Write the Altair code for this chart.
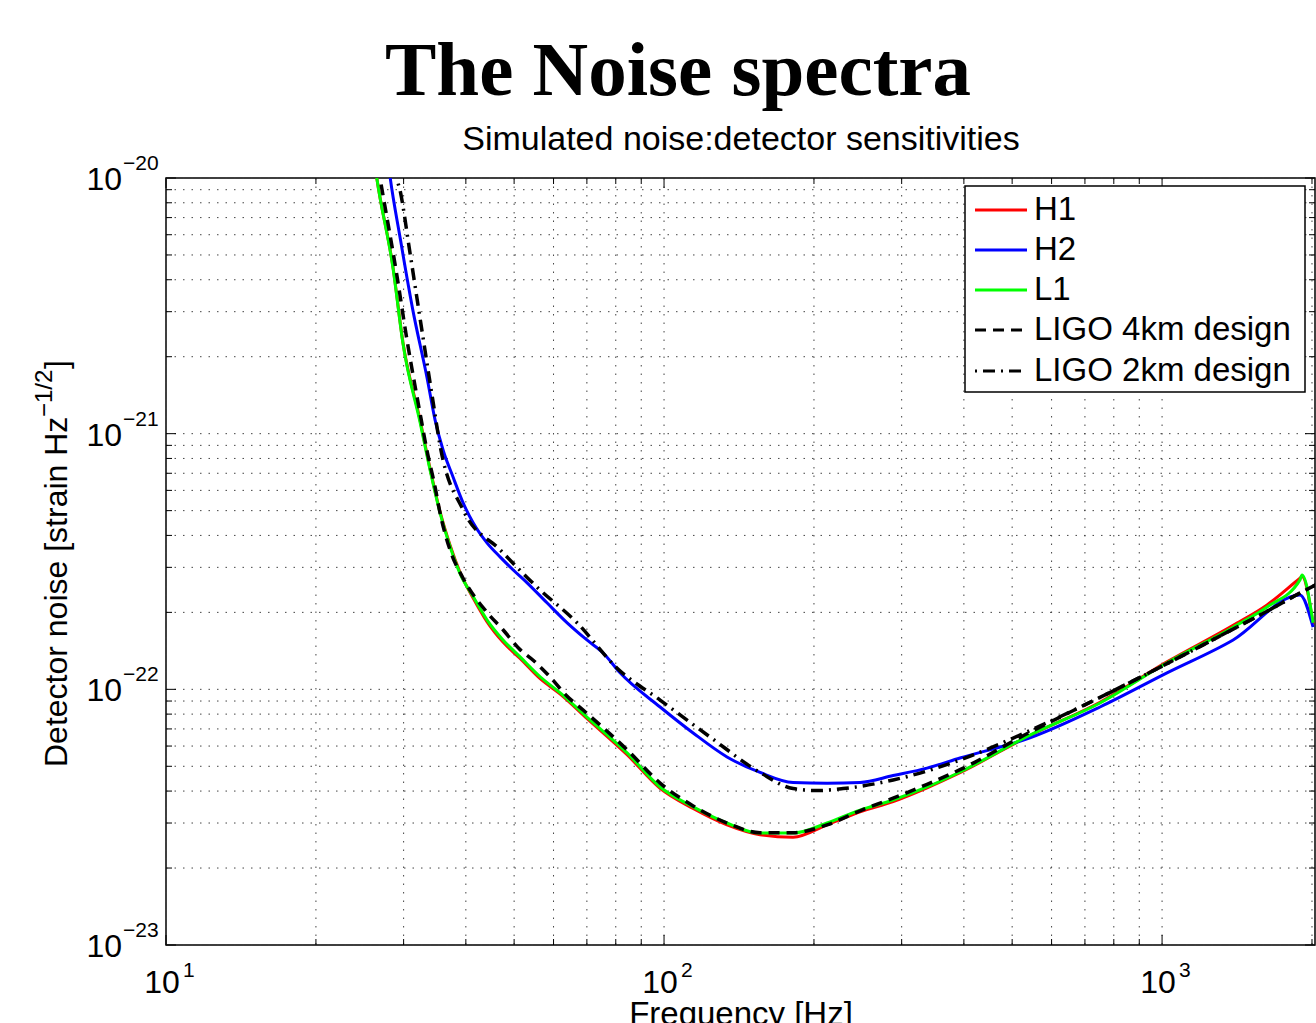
import altair as alt
import pandas as pd

# ---------------- data ----------------
freq_L1 = [26.0, 26.5, 28.6, 29.9, 32.4, 33.9, 35.5, 37.2, 38.9, 41.4, 44.1, 47.5, 51.4, 56.4,
           61.8, 70.0, 84.3, 98.2, 114.4, 133.8, 155.9, 181.6, 212.5, 247.5, 288.4, 337.4, 392.9,
           543.0, 750.6, 1023.0, 1389.0, 1625.0, 1892.0, 1910.0, 2010.0]
val_L1 = [1.3e-20, 1.0e-20, 4.37e-21, 2.26e-21, 1.1e-21, 7.21e-22, 4.90e-22, 3.61e-22, 2.85e-22,
          2.30e-22, 1.87e-22, 1.56e-22, 1.34e-22, 1.12e-22, 9.7e-23, 7.79e-23, 5.64e-23, 4.15e-23,
          3.47e-23, 3.00e-23, 2.74e-23, 2.74e-23, 3.00e-23, 3.37e-23, 3.69e-23, 4.15e-23, 4.75e-23,
          6.62e-23, 8.84e-23, 1.27e-22, 1.75e-22, 2.10e-22, 2.68e-22, 2.80e-22, 1.82e-22]
val_H1 = [1.3e-20, 1.0e-20, 4.4e-21, 2.28e-21, 1.12e-21, 7.3e-22, 4.95e-22, 3.65e-22, 2.88e-22,
          2.27e-22, 1.84e-22, 1.53e-22, 1.32e-22, 1.10e-22, 9.6e-23, 7.70e-23, 5.55e-23, 4.10e-23,
          3.42e-23, 2.95e-23, 2.70e-23, 2.64e-23, 2.95e-23, 3.32e-23, 3.64e-23, 4.12e-23, 4.72e-23,
          6.60e-23, 8.90e-23, 1.28e-22, 1.78e-22, 2.14e-22, 2.72e-22, 2.76e-22, 1.80e-22]

freq_H2 = [27.6, 28.2, 29.5, 31.3, 33.4, 34.7, 36.0, 37.7, 39.5, 41.4, 44.1, 46.9, 49.8, 53.1,
           58.2, 63.9, 70.0, 75.4, 81.6, 98.2, 114.4, 133.8, 155.9, 181.6, 212.5, 247.5, 288.4,
           337.4, 392.9, 543.0, 750.6, 1023.0, 1389.0, 1892.0, 2010.0]
val_H2 = [1.4e-20, 1.0e-20, 5.88e-21, 3.05e-21, 1.67e-21, 1.13e-21, 8.63e-22, 6.77e-22, 5.36e-22,
          4.47e-22, 3.74e-22, 3.29e-22, 2.93e-22, 2.61e-22, 2.18e-22, 1.82e-22, 1.56e-22, 1.39e-22,
          1.16e-22, 8.53e-23, 6.75e-23, 5.44e-23, 4.73e-23, 4.32e-23, 4.29e-23, 4.32e-23, 4.6e-23,
          4.92e-23, 5.39e-23, 6.46e-23, 8.53e-23, 1.16e-22, 1.56e-22, 2.34e-22, 1.75e-22]

freq_4k = [26.3, 26.9, 29.0, 30.5, 32.5, 33.4, 34.7, 35.5, 37.2, 39.5, 44.1, 47.5, 51.4, 54.6,
           59.0, 63.9, 68.8, 84.3, 98.2, 114.4, 133.8, 155.9, 181.6, 212.5, 247.5, 288.4, 337.4,
           392.9, 543.0, 750.6, 1023.0, 1389.0, 1625.0, 1892.0, 2050.0]
val_4k = [1.3e-20, 1.0e-20, 4.3e-21, 2.3e-21, 1.15e-21, 8.63e-22, 6.18e-22, 4.9e-22, 3.5e-22,
          2.72e-22, 2.0e-22, 1.71e-22, 1.43e-22, 1.30e-22, 1.12e-22, 9.4e-23, 8.3e-23, 5.8e-23,
          4.3e-23, 3.5e-23, 3.0e-23, 2.75e-23, 2.75e-23, 2.95e-23, 3.35e-23, 3.75e-23, 4.25e-23,
          4.85e-23, 6.8e-23, 9.3e-23, 1.26e-22, 1.72e-22, 2.02e-22, 2.38e-22, 2.58e-22]

freq_2k = [28.8, 29.1, 29.5, 30.9, 32.4, 34.4, 35.5, 39.5, 46.9, 55.6, 66.9, 80.5, 98.2, 123.7,
           155.9, 181.6, 202.9, 228.8, 288.4, 392.9, 543.0, 750.6, 1023.0, 1389.0, 1625.0, 1892.0,
           2050.0]
val_2k = [1.2e-20, 1.0e-20, 8.98e-21, 5.09e-21, 2.79e-21, 1.32e-21, 9.0e-22, 5.03e-22, 3.51e-22,
          2.51e-22, 1.82e-22, 1.21e-22, 9.08e-23, 6.51e-23, 4.73e-23, 4.09e-23, 4.02e-23, 4.09e-23,
          4.42e-23, 5.29e-23, 6.9e-23, 9.3e-23, 1.26e-22, 1.72e-22, 2.02e-22, 2.38e-22, 2.58e-22]

legend_labels = ["H1", "H2", "L1", "LIGO 4km design", "LIGO 2km design"]
legend_colors = ["#ff0000", "#0000ff", "#00ff00", "#000000", "#000000"]
legend_dashes = [None, None, None, [11, 7], [2, 6, 12, 6]]

x_major = [10, 100, 1000]
x_major_exp = ["1", "2", "3"]
x_minor = [20, 30, 40, 50, 60, 70, 80, 90, 200, 300, 400, 500, 600, 700, 800, 900, 2000]
y_major = [1e-23, 1e-22, 1e-21, 1e-20]
y_major_exp = ["\u221223", "\u221222", "\u221221", "\u221220"]
y_minor = [m * 10.0 ** e for e in (-23, -22, -21) for m in range(2, 10)]

title_text = "The Noise spectra"
subtitle_text = "Simulated noise:detector sensitivities"
xlabel_text = "Frequency [Hz]"
ylabel_main = "Detector noise [strain Hz"
ylabel_sup = "\u22121/2"
ylabel_end = "]"

# ---------------- layout ----------------
W, H = 1149, 767
SANS = "Liberation Sans"
SERIF = "Liberation Serif"

xs = alt.Scale(type="log", domain=[10, 2028], nice=False)
ys = alt.Scale(type="log", domain=[1e-23, 1e-20], nice=False)


def X(field="v"):
    return alt.X(f"{field}:Q", scale=xs, axis=None)


def Y(field="v"):
    return alt.Y(f"{field}:Q", scale=ys, axis=None)


one = pd.DataFrame({"a": [0]})
layers = []

grid_kw = dict(color="#444444", strokeDash=[1.5, 7], strokeWidth=1)
xg = pd.DataFrame({"v": x_major + x_minor})
yg = pd.DataFrame({"v": y_major + y_minor})
layers.append(alt.Chart(xg).mark_rule(**grid_kw).encode(x=X(), y=alt.value(0), y2=alt.value(H)))
layers.append(alt.Chart(yg).mark_rule(**grid_kw).encode(y=Y(), x=alt.value(0), x2=alt.value(W)))

# inward ticks
tick_kw = dict(color="black", strokeWidth=1)
xM = pd.DataFrame({"v": x_major})
xm = pd.DataFrame({"v": x_minor})
yM = pd.DataFrame({"v": y_major})
ym = pd.DataFrame({"v": y_minor})
for df, ln in ((xM, 10), (xm, 6)):
    layers.append(alt.Chart(df).mark_rule(**tick_kw).encode(x=X(), y=alt.value(H), y2=alt.value(H - ln)))
    layers.append(alt.Chart(df).mark_rule(**tick_kw).encode(x=X(), y=alt.value(0), y2=alt.value(ln)))
for df, ln in ((yM, 10), (ym, 6)):
    layers.append(alt.Chart(df).mark_rule(**tick_kw).encode(y=Y(), x=alt.value(0), x2=alt.value(ln)))
    layers.append(alt.Chart(df).mark_rule(**tick_kw).encode(y=Y(), x=alt.value(W), x2=alt.value(W - ln)))


def curve(freqs, vals, color, width, dash=None):
    df = pd.DataFrame({"f": freqs, "h": vals})
    kw = dict(color=color, strokeWidth=width, clip=True, interpolate="monotone")
    if dash:
        kw["strokeDash"] = dash
    return alt.Chart(df).mark_line(**kw).encode(x=X("f"), y=Y("h"))


layers.append(curve(freq_L1, val_H1, legend_colors[0], 3))
layers.append(curve(freq_H2, val_H2, legend_colors[1], 3))
layers.append(curve(freq_L1, val_L1, legend_colors[2], 3))
layers.append(curve(freq_4k, val_4k, legend_colors[3], 3.5, legend_dashes[3]))
layers.append(curve(freq_2k, val_2k, legend_colors[4], 3.5, legend_dashes[4]))

# tick labels
xl = pd.DataFrame({"v": x_major, "b": ["10"] * 3, "e": x_major_exp})
layers.append(alt.Chart(xl).mark_text(font=SANS, fontSize=32, align="center", dx=-4,
                                      baseline="alphabetic").encode(x=X(), y=alt.value(815), text="b:N"))
layers.append(alt.Chart(xl).mark_text(font=SANS, fontSize=21, align="left", dx=17,
                                      baseline="alphabetic").encode(x=X(), y=alt.value(799), text="e:N"))
yl = pd.DataFrame({"v": y_major, "b": ["10"] * 4, "e": y_major_exp})
layers.append(alt.Chart(yl).mark_text(font=SANS, fontSize=32, align="right", dy=12,
                                      baseline="alphabetic").encode(y=Y(), x=alt.value(-44), text="b:N"))
layers.append(alt.Chart(yl).mark_text(font=SANS, fontSize=21, align="left", dy=-8,
                                      baseline="alphabetic").encode(y=Y(), x=alt.value(-43), text="e:N"))


# titles
def label(text, x, y, size, font=SANS, weight="normal", align="center", angle=0):
    kw = dict(text=text, font=font, fontSize=size, fontWeight=weight, align=align,
              baseline="alphabetic", color="black")
    if angle:
        kw["angle"] = angle
    return alt.Chart(one).mark_text(**kw).encode(x=alt.value(x), y=alt.value(y))


layers.append(label(title_text, 512, -83, 77, font=SERIF, weight="bold"))
layers.append(label(subtitle_text, 575, -28, 34))
layers.append(label(xlabel_text, 575, 847, 33))
layers.append(label(ylabel_main, -99, 589, 32, align="left", angle=270))
layers.append(label(ylabel_sup, -114, 239, 24, align="left", angle=270))
layers.append(label(ylabel_end, -99, 191, 32, align="left", angle=270))

# legend
LX0, LX1, LY0, LY1 = 799, 1139, 8, 214
layers.append(alt.Chart(one).mark_rect(fill="white", stroke="black", strokeWidth=1.5).encode(
    x=alt.value(LX0), x2=alt.value(LX1), y=alt.value(LY0), y2=alt.value(LY1)))
row_y = [32, 72, 112, 152, 193]
for lab, col, dash, ry in zip(legend_labels, legend_colors, legend_dashes, row_y):
    kw = dict(color=col, strokeWidth=3)
    if dash:
        kw["strokeDash"] = dash
    layers.append(alt.Chart(one).mark_rule(**kw).encode(
        x=alt.value(809), x2=alt.value(861), y=alt.value(ry)))
    layers.append(alt.Chart(one).mark_text(text=lab, font=SANS, fontSize=33, align="left",
                                           baseline="middle", color="black").encode(
        x=alt.value(868), y=alt.value(ry)))

chart = alt.layer(*layers).properties(
    width=W, height=H,
    autosize=alt.AutoSizeParams(type="none"),
    padding={"left": 166, "top": 178, "right": 1, "bottom": 78},
    background="white",
).configure_view(stroke="black", strokeWidth=1.5)

chart.save("out.html", embed_options={"renderer": "svg", "actions": False})
